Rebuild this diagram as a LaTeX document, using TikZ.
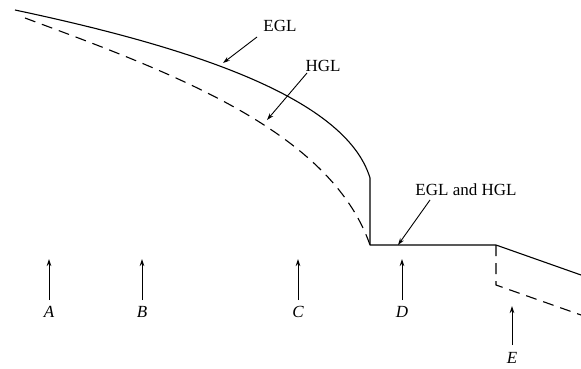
\documentclass[tikz,border=0pt]{standalone}
\usepackage{fontspec}
\setmainfont{Liberation Serif}
\usetikzlibrary{arrows.meta}
\begin{document}
\begin{tikzpicture}[x=1pt,y=-1pt,
  line/.style={line width=1.1pt,line join=round},
  hgl/.style={line width=1.1pt,dash pattern=on 11pt off 7pt},
  ptr/.style={line width=0.9pt,-{Stealth[length=7pt,width=4.5pt]}},
  lbl/.style={font=\fontsize{17}{20}\selectfont,inner sep=0pt},
  sec/.style={font=\fontsize{17}{20}\selectfont\itshape,inner sep=0pt}]
\useasboundingbox (0,0) rectangle (581,369);
% EGL
\draw[line] (15,10) .. controls (180,45) and (345,95) .. (370,178)
  -- (370,245) coordinate (c1) -- (496,245) coordinate (c2) -- (581,275) coordinate (c3);
% HGL
\draw[hgl] (25,18) .. controls (170,72) and (330,130) .. (c1);
\draw[hgl] (c2) -- (496,285) coordinate (c4) -- (581,315) coordinate (c5);
% labels with pointers
\node[lbl] (egl) at (280,26) {EGL};
\coordinate (egltail) at (257,37);
\coordinate (egltip) at (223,63);
\draw[ptr] (egltail) -- (egltip);
\node[lbl] (hgll) at (323,66) {HGL};
\coordinate (hgltail) at (307,73);
\coordinate (hgltip) at (267,120);
\draw[ptr] (hgltail) -- (hgltip);
\node[lbl] (both) at (466,190) {EGL and HGL};
\coordinate (bothtail) at (430,200);
\coordinate (bothtip) at (398,245);
\draw[ptr] (bothtail) -- (bothtip);
% sections
\foreach \n/\x in {A/49,B/142,C/298,D/402}{
  \node[sec] (l\n) at (\x,312) {\n};
  \coordinate (t\n) at (\x,300);
  \coordinate (h\n) at (\x,259);
  \draw[ptr] (t\n) -- (h\n);
}
\node[sec] (lE) at (512,358) {E};
\coordinate (tE) at (512,345);
\coordinate (hE) at (512,306);
\draw[ptr] (tE) -- (hE);
\end{tikzpicture}
\end{document}
